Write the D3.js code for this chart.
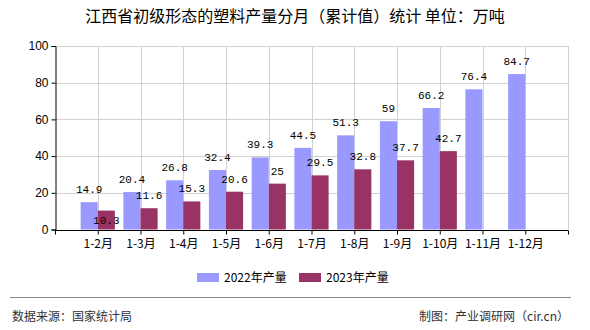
<!DOCTYPE html>
<html>
<head>
<meta charset="utf-8">
<script src="https://cdn.jsdelivr.net/npm/d3@7/dist/d3.min.js"></script>
<style>
  html, body { margin: 0; padding: 0; background: #fff; }
  svg { display: block; }
</style>
</head>
<body>
<svg id="chart" width="590" height="330"></svg>
<script>
// Cumulative monthly output, 10k tonnes
const categories = ["1-2月", "1-3月", "1-4月", "1-5月", "1-6月", "1-7月", "1-8月", "1-9月", "1-10月", "1-11月", "1-12月"];
const values2022 = [14.9, 20.4, 26.8, 32.4, 39.3, 44.5, 51.3, 59, 66.2, 76.4, 84.7];
const values2023 = [10.3, 11.6, 15.3, 20.6, 25, 29.5, 32.8, 37.7, 42.7];
const seriesNames = ["2022年产量", "2023年产量"];
const seriesColors = ["#9999ff", "#993366"];
const yTicks = [0, 20, 40, 60, 80, 100];

const svg = d3.select("#chart");
const plotLeft = 55, plotRight = 568, plotTop = 46, plotBottom = 229.5;

// slot 0 is empty, categories sit on slots 1..11, axis ends at slot 12
const x = d3.scaleLinear().domain([0, categories.length + 1]).range([plotLeft, plotRight]);
const y = d3.scaleLinear().domain([0, 100]).range([plotBottom, plotTop]);
const slotW = x(1) - x(0);
const barW = slotW * 0.4;

// title
svg.append("text")
  .attr("x", 295).attr("y", 22)
  .attr("text-anchor", "middle")
  .attr("font-family", "'Noto Sans CJK SC', sans-serif")
  .attr("font-size", 16)
  .attr("fill", "#000")
  .text("江西省初级形态的塑料产量分月（累计值）统计 单位：万吨");

// gridlines
const grid = svg.append("g").attr("stroke", "#d0d0d0").attr("stroke-width", 1);
yTicks.filter(d => d > 0).forEach(d => {
  grid.append("line").attr("x1", plotLeft).attr("x2", plotRight)
    .attr("y1", Math.round(y(d)) + 0.5).attr("y2", Math.round(y(d)) + 0.5);
});
d3.range(1, categories.length + 2).forEach(i => {
  grid.append("line").attr("y1", plotTop).attr("y2", plotBottom)
    .attr("x1", Math.round(x(i)) + 0.5).attr("x2", Math.round(x(i)) + 0.5);
});

// bars
const bars = svg.append("g");
bars.selectAll("rect.s0").data(values2022).join("rect")
  .attr("class", "s0")
  .attr("x", (d, i) => x(i + 1) - barW)
  .attr("y", d => y(d))
  .attr("width", barW)
  .attr("height", d => y(0) - y(d))
  .attr("fill", seriesColors[0]);
bars.selectAll("rect.s1").data(values2023).join("rect")
  .attr("class", "s1")
  .attr("x", (d, i) => x(i + 1))
  .attr("y", d => y(d))
  .attr("width", barW)
  .attr("height", d => y(0) - y(d))
  .attr("fill", seriesColors[1]);

// value labels; a 2023 label that would collide with the 2022 one drops inside its bar
const labelFont = "'Liberation Mono', 'DejaVu Sans Mono', monospace";
const labels = svg.append("g")
  .attr("font-family", labelFont)
  .attr("font-size", 11)
  .attr("fill", "#000")
  .attr("text-anchor", "middle");
labels.selectAll("text.l0").data(values2022).join("text")
  .attr("class", "l0")
  .attr("x", (d, i) => x(i + 1) - barW / 2)
  .attr("y", d => y(d) - 9)
  .text(d => d);
labels.selectAll("text.l1").data(values2023).join("text")
  .attr("class", "l1")
  .attr("x", (d, i) => x(i + 1) + barW / 2)
  .attr("y", (d, i) => {
    const own = y(d) - 9, other = y(values2022[i]) - 9;
    return (own - other < 12) ? y(d) + 13 : own;
  })
  .text(d => d);

// y axis
const yAxis = svg.append("g")
  .attr("transform", `translate(${plotLeft + 0.5},0)`)
  .call(d3.axisLeft(y).tickValues(yTicks).tickSize(4).tickPadding(3));
yAxis.select(".domain").attr("stroke", "#000");
yAxis.selectAll(".tick line").attr("stroke", "#000");
yAxis.selectAll(".tick text")
  .attr("font-family", "'Liberation Sans', Arial, sans-serif")
  .attr("font-size", 12).attr("fill", "#000");

// x axis
const xAxis = svg.append("g")
  .attr("transform", `translate(0,${Math.round(plotBottom) + 0.5})`)
  .call(d3.axisBottom(x)
    .tickValues(d3.range(0, categories.length + 2))
    .tickSize(4).tickPadding(5)
    .tickFormat(i => (i >= 1 && i <= categories.length) ? categories[i - 1] : ""));
xAxis.select(".domain").attr("stroke", "#000").attr("d", `M${plotLeft},0H${plotRight}`);
xAxis.selectAll(".tick line").attr("stroke", "#000");
xAxis.selectAll(".tick text")
  .attr("font-family", "'Noto Sans CJK SC', sans-serif")
  .attr("font-size", 12).attr("fill", "#000");

// legend
const legend = svg.append("g").attr("font-family", "'Noto Sans CJK SC', sans-serif").attr("font-size", 12);
const legendX = [197, 299];
seriesNames.forEach((name, k) => {
  legend.append("rect").attr("x", legendX[k]).attr("y", 273)
    .attr("width", 22).attr("height", 9).attr("fill", seriesColors[k]);
  legend.append("text").attr("x", legendX[k] + 27).attr("y", 281.5)
    .attr("fill", "#000").text(name);
});

// footer
svg.append("line").attr("x1", 10).attr("x2", 571).attr("y1", 297.5).attr("y2", 297.5)
  .attr("stroke", "#888").attr("stroke-width", 1);
svg.append("text").attr("x", 12).attr("y", 320.5)
  .attr("font-family", "'Noto Sans CJK SC', sans-serif").attr("font-size", 12)
  .attr("fill", "#333").text("数据来源：国家统计局");
svg.append("text").attr("x", 569).attr("y", 320.5).attr("text-anchor", "end")
  .attr("font-family", "'Noto Sans CJK SC', sans-serif").attr("font-size", 12)
  .attr("fill", "#333").text("制图：产业调研网（cir.cn）");
</script>
</body>
</html>
